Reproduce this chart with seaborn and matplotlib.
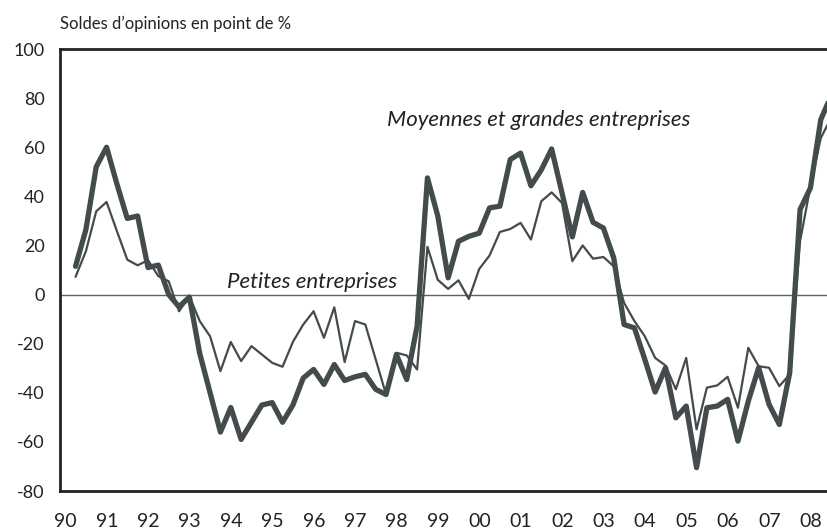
# Soldes d'opinions - moyennes/grandes vs petites entreprises
# quarterly series

import numpy as np
import pandas as pd
import matplotlib
matplotlib.use("Agg")
import matplotlib.pyplot as plt
import seaborn as sns

# data
quarters = pd.period_range("1990Q2", periods=74, freq="Q")
moyennes = [11.5, 26.4, 52, 60, 45, 31, 32, 11, 12, 0,
            -5, -1, -24, -40, -56, -46, -59, -52, -45, -44,
            -52, -45, -34, -30.5, -36.6, -28.5, -35, -33.5, -32.5, -38.6,
            -40.7, -24.4, -34.6, -12.9, 47.5, 32, 6.8, 21.7, 23.7, 25,
            35.3, 36, 55, 57.6, 44.3, 50.8, 59.3, 41.4, 23.5, 41.6,
            29.4, 27.1, 14.9, -12.2, -13.6, -26.4, -39.7, -29.8, -50.2, -45.4,
            -70.5, -46.1, -45.4, -42.7, -59.7, -43.4, -29.8, -44.7, -52.9, -31.9,
            34.6, 43.4, 71.2, 81]
petites = [7.2, 17.6, 33.9, 37.7, 25.8, 14.2, 11.9, 14, 7.5, 5.4,
           -6.8, -0.7, -10.8, -17, -31.2, -19.3, -27.1, -21, -24.4, -27.8,
           -29.4, -19.3, -12.2, -6.8, -17.6, -5.2, -27.5, -10.8, -12.2, -26.4,
           -40.7, -23.7, -24.8, -30.5, 19.4, 6, 2.3, 5.8, -1.8, 10.4,
           15.9, 25.5, 26.7, 29.2, 22.4, 38, 41.6, 37.3, 13.6, 20,
           14.6, 15.3, 11.5, -3.4, -10.8, -17, -25.8, -28.9, -38.6, -25.8,
           -54.9, -37.9, -37, -33.5, -46.1, -21.7, -29.2, -29.8, -37.3, -32.5,
           21.7, 44, 63.7, 72]
years = list(range(1990, 2009))
year_labels = ["90", "91", "92", "93", "94", "95", "96", "97", "98", "99",
               "00", "01", "02", "03", "04", "05", "06", "07", "08"]

df = pd.DataFrame({
    "t": [q.year + (q.quarter - 0.5) / 4 for q in quarters],
    "moyennes": moyennes,
    "petites": petites,
})

sns.set_style("white")
plt.rcParams["font.family"] = ["Lato", "DejaVu Sans"]

col = "#434b4c"
fig = plt.figure(figsize=(8.28, 5.30), dpi=100)
ax = fig.add_axes([60 / 828, 1 - 491 / 530, 1 - 60 / 828, 442 / 530])

ax.axhline(0, color="#5a6262", lw=1.0, zorder=1)
sns.lineplot(data=df, x="t", y="petites", ax=ax, color=col, lw=1.6, legend=False)
sns.lineplot(data=df, x="t", y="moyennes", ax=ax, color=col, lw=3.8, legend=False)

ax.set_xlim(1990, 2008.55)
ax.set_ylim(-80, 100)
ax.set_yticks(range(-80, 101, 20))
ax.set_yticklabels([str(v) for v in range(-80, 101, 20)], fontsize=13, color="#222")
ax.tick_params(axis="y", direction="in", length=5, width=1.2, pad=11, color="#222")

# tick marks at year boundaries, labels slightly to the right
ax.set_xticks(years[1:])
ax.set_xticklabels([])
ax.tick_params(axis="x", which="major", direction="in", length=5, width=1.2, color="#222")
ax.set_xticks(np.array(years) + 0.13, minor=True)
ax.set_xticklabels(year_labels, minor=True, fontsize=14, color="#222")
ax.tick_params(axis="x", which="minor", length=0, pad=16)

ax.set_xlabel("")
ax.set_ylabel("")
for s in ["left", "bottom", "top"]:
    ax.spines[s].set_color("#222")
    ax.spines[s].set_linewidth(2)
ax.spines["right"].set_visible(False)

ax.text(1997.89, 71, "Moyennes et grandes entreprises", style="italic",
        fontsize=16, color="#222", va="center", ha="left")
ax.text(1994.03, 5, "Petites entreprises", style="italic",
        fontsize=16, color="#222", va="center", ha="left")

fig.text(60 / 828, 1 - 24 / 530, "Soldes d\u2019opinions en point de %",
         fontsize=12, color="#222", va="center", ha="left")

fig.savefig("out.png", dpi=100)
